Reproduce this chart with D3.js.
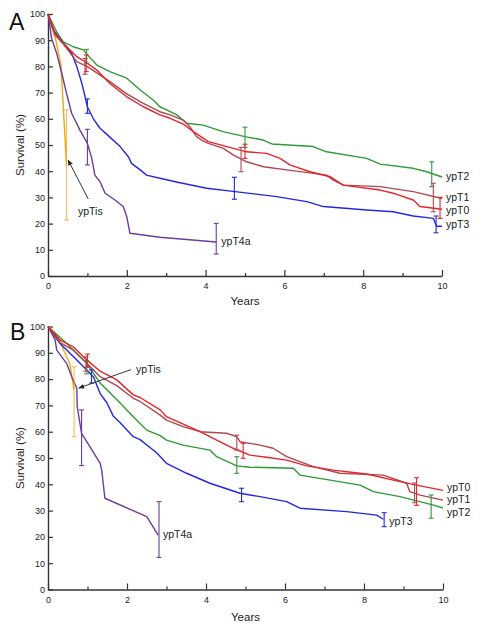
<!DOCTYPE html>
<html>
<head>
<meta charset="utf-8">
<script src="https://cdn.jsdelivr.net/npm/d3@7"></script>
<style>
  html, body { margin: 0; padding: 0; background: #fff; }
  svg { display: block; font-family: "Liberation Sans", Arial, Helvetica, sans-serif; }
</style>
</head>
<body>
<svg id="chart" width="483" height="632"></svg>
<script>
// ---------------- DATA ----------------
const xTicks = [0, 2, 4, 6, 8, 10];
const xMinorTicks = [1, 3, 5, 7, 9];
const yTicks = [0, 10, 20, 30, 40, 50, 60, 70, 80, 90, 100];
const seriesNames = ["ypTis", "ypT4a", "ypT3", "ypT2", "ypT1", "ypT0"];

// Panel A — [years, survival %]
const A_ypT0 = [[0,100],[0.18,92.6],[0.39,88.8],[0.73,83.7],[1.0,81.2],[1.24,78.6],[1.57,73.5],[2.0,68.4],[2.42,64.6],[2.84,61.5],[3.1,60.2],[3.43,58],[3.69,55.1],[4.07,51.3],[4.54,49.4],[5.04,47.4],[5.55,46.8],[5.89,44.9],[6.14,42.4],[6.65,39.8],[7.16,37.9],[7.49,34.7],[8.43,32.8],[8.76,31.6],[9.27,29.0],[9.44,26.5],[10,25.5]];
const A_ypT1 = [[0,100],[0.18,92],[0.39,88.5],[0.73,81.8],[1.0,79.9],[1.57,74.2],[2.0,69.5],[2.42,65.9],[2.84,62.7],[3.1,61.5],[3.43,59.5],[3.6,57],[3.77,53.2],[3.94,51.5],[4.07,50.6],[4.45,48.7],[4.7,46.2],[5.04,43.6],[5.47,41.7],[6.06,40.5],[7.07,38.5],[7.24,36.6],[7.5,34.7],[8.43,34.1],[9.27,32.2],[10,29.6]];
const A_ypT2 = [[0,100],[0.22,93.2],[0.39,89.4],[0.64,87.5],[0.9,86.3],[1.0,84.4],[1.24,80.5],[1.57,78],[2.0,75.5],[2.34,71],[2.67,67.2],[2.84,64.6],[3.1,62.7],[3.27,61.5],[3.52,58.3],[3.94,57.6],[4.44,55.1],[5.0,53.2],[5.46,51.9],[5.68,50.4],[6.73,49.4],[7.07,47.4],[8.09,44.9],[8.43,42.7],[9.27,41.1],[9.61,39.8],[10,37.8]];
const A_ypT3 = [[0,100],[0.13,94],[0.39,89],[0.6,85],[0.73,80],[0.86,73.5],[1.0,64.6],[1.15,60],[1.32,56.4],[1.57,53],[1.83,49.4],[2.04,45.5],[2.12,43],[2.34,40.5],[2.5,38.5],[2.84,37.3],[3.35,35.6],[4.03,33.5],[4.75,32.2],[5.8,30.3],[6.57,28.4],[6.99,26.5],[8.09,25.2],[8.76,24.5],[9.27,22.9],[9.78,22.0],[9.86,19],[10,19]];
const A_ypT4a = [[0,100],[0.05,95.2],[0.09,90.7],[0.22,85],[0.35,77.4],[0.47,69.7],[0.6,62.1],[0.81,55.7],[1.0,50.6],[1.11,45],[1.19,38.5],[1.32,36],[1.45,31.6],[1.7,29],[1.91,26.5],[2.0,22.6],[2.08,16.3],[2.84,14.8],[4.27,13]];
const A_ypTis = [[0,100],[0.2,90],[0.33,80.5],[0.47,42]];

// Panel A error bars — [years, low %, high %]
const A_err_ypT0 = [[0.97,78,84.4],[5.0,44.9,50.3],[9.95,22,30]];
const A_err_ypT1 = [[0.94,77,83],[4.9,39.8,49.1],[9.78,24.5,35.4]];
const A_err_ypT2 = [[0.98,81.2,86.5],[5.0,49.1,56.8],[9.74,34.1,43.6]];
const A_err_ypT3 = [[1.0,62.1,67.6],[4.73,29.3,37.7],[9.85,16.5,22.9]];
const A_err_ypT4a = [[1.0,42.4,56],[4.27,8.4,20.1]];
const A_err_ypTis = [[0.47,21.4,63.4]];

// Panel B — [years, survival %]
const B_ypT0 = [[0,100],[0.3,94.9],[0.64,92.3],[0.98,87.3],[1.32,83],[1.74,79.7],[2.16,74],[2.33,73],[2.84,68.3],[3.0,65.7],[3.85,60],[4.27,56.8],[4.69,53.7],[5.11,51.1],[5.53,50.3],[6.04,49.2],[6.55,47],[7.22,45.4],[8.07,43.9],[8.91,41],[9.33,39.7],[10,37.7]];
const B_ypT1 = [[0,100],[0.3,94],[0.64,91],[0.98,86],[1.32,80.9],[1.74,77.5],[2.16,72.7],[2.33,71.5],[2.84,66.3],[3.0,64.4],[3.42,61.9],[3.85,60],[4.52,59.4],[4.78,58.1],[4.86,56.2],[5.37,54.9],[5.7,53.7],[6.04,50.5],[6.72,46.7],[7.39,44.2],[8.49,43.5],[9.08,40.4],[9.16,37.2],[9.42,35.9],[10,34]];
const B_ypT2 = [[0,100],[0.47,93.6],[0.81,88.5],[0.98,86],[1.32,78.5],[1.82,71],[2.16,65.7],[2.5,60.6],[2.84,58.5],[3.0,56.8],[3.42,54.9],[4.1,53],[4.27,50.5],[4.78,47],[5.11,46.5],[6.21,46.1],[6.38,43.5],[7.9,39.7],[8.24,37.2],[8.91,35.3],[9.76,32.1],[10,31]];
const B_ypT3 = [[0,100],[0.3,93.6],[0.73,87.3],[1.15,80.9],[1.32,74.5],[1.49,71],[1.65,66],[1.82,63.5],[2.16,58.1],[2.33,57],[2.75,52],[3.0,48],[3.51,44.2],[4.1,40.4],[4.86,36.6],[5.37,35.3],[6.04,33.4],[6.38,30.9],[7.56,29.6],[8.32,28.3],[8.49,26.7]];
const B_ypT4a = [[0,100],[0.18,94.9],[0.22,91],[0.47,86],[0.6,80.9],[0.73,76.5],[0.74,69.5],[0.85,59.4],[1.06,54.3],[1.32,48],[1.36,45.4],[1.44,34.7],[2.5,27.7],[2.79,20.7]];
const B_ypTis = [[0,100],[0.25,96],[0.47,88.5],[0.55,86],[0.66,76]];

// Panel B error bars — [years, low %, high %]
const B_err_ypT0 = [[1.0,84.5,89.5],[4.94,49.9,55.6],[9.33,32,42.5]];
const B_err_ypT1 = [[0.96,83,88.5],[4.78,53,58.7],[9.28,33,40.5]];
const B_err_ypT2 = [[0.98,82,87],[4.78,44.2,50.5],[9.7,27.1,35.9]];
const B_err_ypT3 = [[1.1,78.5,83.5],[4.9,33.4,38.5],[8.51,23.9,29.2]];
const B_err_ypT4a = [[0.85,47.1,68.3],[2.81,12.2,33.4]];
const B_err_ypTis = [[0.66,58.1,84.7]];

// Curve-end labels — [name, years, survival %] (label anchor, data units)
const A_labels = [["ypT2",10.1,38.0],["ypT1",10.1,30.0],["ypT0",10.1,25.2],["ypT3",10.1,19.6],["ypT4a",4.4,13.2]];
const B_labels = [["ypT0",10.1,38.8],["ypT1",10.1,34.4],["ypT2",10.1,29.4],["ypT3",8.64,26.1],["ypT4a",2.91,20.8]];
// ypTis callout — text anchor, arrow start, arrow tip (years, %)
const A_tis = { text: [0.76, 24.6], from: [1.02, 29.4], to: [0.51, 44.3] };
const B_tis = { text: [2.23, 83.8], from: [2.1, 83.6], to: [0.78, 76.6] };

// ---------------- STYLE ----------------
const colors = {
  ypT0: "#e8232b",
  ypT1: "#b04850",
  ypT2: "#2f9a36",
  ypT3: "#2228e0",
  ypT4a: "#6a3d9e",
  ypTis: "#f2a516"
};

const svg = d3.select("#chart");

svg.append("defs").append("marker")
  .attr("id", "arrow").attr("viewBox", "0 0 10 10")
  .attr("refX", 9).attr("refY", 5)
  .attr("markerWidth", 6).attr("markerHeight", 6)
  .attr("orient", "auto-start-reverse")
  .append("path").attr("d", "M0,1 L10,5 L0,9 z").attr("fill", "#222");

function panel(cfg) {
  const { x, y, curves, errs, labels, tis, letter, letterPos, ylabelY, xlabelY } = cfg;
  const g = svg.append("g");

  // axes
  const xAxis = d3.axisBottom(x).tickValues(xTicks).tickSize(-6).tickSizeOuter(0).tickPadding(7).tickFormat(d3.format("d"));
  const xMinor = d3.axisBottom(x).tickValues(xMinorTicks).tickSize(-3).tickSizeOuter(0).tickFormat("");
  const yAxis = d3.axisLeft(y).tickValues(yTicks).tickSize(-5).tickSizeOuter(0).tickPadding(3).tickFormat(d3.format("d"));

  const y0 = y(0);
  const gx = g.append("g").attr("transform", `translate(0,${y0})`).call(xAxis);
  const gxm = g.append("g").attr("transform", `translate(0,${y0})`).call(xMinor);
  const gy = g.append("g").attr("transform", `translate(${x(0)},0)`).call(yAxis);
  [gx, gxm, gy].forEach(a => {
    a.selectAll("path").attr("stroke", "#333").attr("stroke-width", 1.4);
    a.selectAll("line").attr("stroke", "#333").attr("stroke-width", 1.2);
    a.selectAll("text").attr("fill", "#222").attr("font-size", 9).attr("font-family", "Liberation Sans, Arial, sans-serif");
  });
  gxm.select("path").remove();

  // curves
  const line = d3.line().x(d => x(d[0])).y(d => y(d[1]));
  seriesNames.forEach(n => {
    g.append("path").datum(curves[n])
      .attr("d", line).attr("fill", "none")
      .attr("stroke", colors[n]).attr("stroke-width", 1.4)
      .attr("stroke-linejoin", "round");
  });

  // error bars
  seriesNames.forEach(n => {
    const eg = g.append("g").attr("stroke", colors[n]).attr("stroke-width", 1.1)
      .attr("opacity", n === "ypTis" ? 0.7 : 1);
    errs[n].forEach(e => {
      const cx = x(e[0]);
      eg.append("line").attr("x1", cx).attr("x2", cx).attr("y1", y(e[1])).attr("y2", y(e[2]));
      eg.append("line").attr("x1", cx - 2.5).attr("x2", cx + 2.5).attr("y1", y(e[1])).attr("y2", y(e[1]));
      eg.append("line").attr("x1", cx - 2.5).attr("x2", cx + 2.5).attr("y1", y(e[2])).attr("y2", y(e[2]));
    });
  });

  // labels
  labels.forEach(l => {
    g.append("text").attr("x", x(l[1])).attr("y", y(l[2])).attr("dy", "0.35em")
      .attr("font-size", 10.5).attr("fill", "#222").text(l[0]);
  });

  // ypTis callout
  g.append("line")
    .attr("x1", x(tis.from[0])).attr("y1", y(tis.from[1]))
    .attr("x2", x(tis.to[0])).attr("y2", y(tis.to[1]))
    .attr("stroke", "#333").attr("stroke-width", 1)
    .attr("marker-end", "url(#arrow)");
  g.append("text").attr("x", x(tis.text[0])).attr("y", y(tis.text[1])).attr("dy", "0.35em")
    .attr("font-size", 10.5).attr("fill", "#222").text("ypTis");

  // axis titles
  g.append("text").attr("x", (x(0) + x(10)) / 2).attr("y", xlabelY)
    .attr("text-anchor", "middle").attr("font-size", 11.5).attr("fill", "#222").text("Years");
  g.append("text")
    .attr("transform", `translate(24,${ylabelY}) rotate(-90)`)
    .attr("text-anchor", "middle").attr("font-size", 11.5).attr("fill", "#222").text("Survival (%)");
  g.append("text").attr("x", letterPos[0]).attr("y", letterPos[1])
    .attr("font-size", 23).attr("fill", "#111").text(letter);
}

const xA = d3.scaleLinear().domain([0, 10]).range([48, 442]);
const yA = d3.scaleLinear().domain([0, 100]).range([276, 14]);
const xB = d3.scaleLinear().domain([0, 10]).range([48, 443]);
const yB = d3.scaleLinear().domain([0, 100]).range([589.5, 326.5]);

panel({
  x: xA, y: yA,
  curves: { ypT0: A_ypT0, ypT1: A_ypT1, ypT2: A_ypT2, ypT3: A_ypT3, ypT4a: A_ypT4a, ypTis: A_ypTis },
  errs: { ypT0: A_err_ypT0, ypT1: A_err_ypT1, ypT2: A_err_ypT2, ypT3: A_err_ypT3, ypT4a: A_err_ypT4a, ypTis: A_err_ypTis },
  labels: A_labels, tis: A_tis,
  letter: "A", letterPos: [9, 30], ylabelY: 145, xlabelY: 305
});

panel({
  x: xB, y: yB,
  curves: { ypT0: B_ypT0, ypT1: B_ypT1, ypT2: B_ypT2, ypT3: B_ypT3, ypT4a: B_ypT4a, ypTis: B_ypTis },
  errs: { ypT0: B_err_ypT0, ypT1: B_err_ypT1, ypT2: B_err_ypT2, ypT3: B_err_ypT3, ypT4a: B_err_ypT4a, ypTis: B_err_ypTis },
  labels: B_labels, tis: B_tis,
  letter: "B", letterPos: [10, 340], ylabelY: 458, xlabelY: 621
});
</script>
</body>
</html>
